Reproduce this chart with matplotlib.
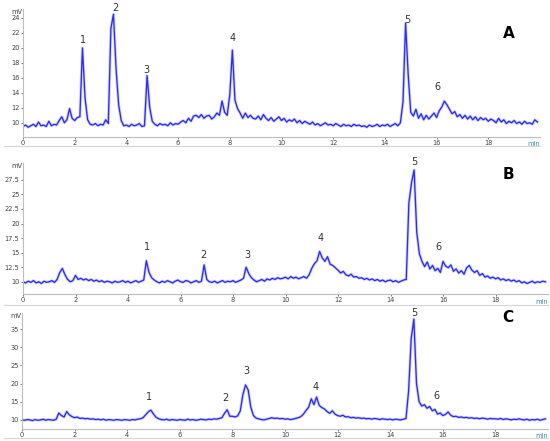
import numpy as np
import matplotlib
matplotlib.use("Agg")
import matplotlib.pyplot as plt
from matplotlib.lines import Line2D

# retention time grid (min)
time_min = [round(0.1 * i, 1) for i in range(200)]

signal_A = [
    9.5, 9.7, 9.4, 9.6, 9.8, 9.5, 10.1, 9.6, 9.7, 9.5,
    10.2, 9.6, 9.8, 9.7, 10.3, 10.8, 10.0, 10.4, 11.9, 10.6,
    10.3, 10.7, 10.8, 20.0, 13.3, 10.4, 9.8, 9.7, 9.9, 9.6,
    9.8, 9.7, 10.4, 9.9, 22.6, 24.5, 17.2, 12.4, 10.3, 9.6,
    9.7, 9.5, 9.8, 9.6, 9.7, 9.9, 9.5, 9.6, 16.3, 12.1,
    10.2, 9.8, 9.6, 9.9, 9.7, 9.8, 9.6, 10.0, 9.7, 9.9,
    9.8, 10.1, 10.3, 10.0, 10.6, 10.2, 10.9, 11.0, 10.7, 11.1,
    10.6, 10.9, 11.0, 10.5, 10.8, 11.3, 11.0, 12.9, 11.4, 11.0,
    13.8, 19.7, 13.0, 11.9, 11.3, 10.6, 11.3, 10.7, 11.0, 10.6,
    10.5, 10.9, 10.4, 11.1, 10.6, 10.3, 10.7, 10.2, 10.5, 10.8,
    10.3, 10.6, 10.1, 10.4, 10.2, 10.5, 10.0, 10.3, 9.9, 10.2,
    10.0, 9.8, 10.1, 9.7, 9.9, 9.6, 9.8, 10.0, 9.7, 9.8,
    9.6, 9.9, 9.7, 9.5, 9.8, 9.6, 9.7, 9.5, 9.8, 9.6,
    9.7, 9.5, 9.6, 9.4, 9.7, 9.5, 9.6, 9.8, 9.5, 9.7,
    9.6, 9.8, 9.5, 9.7, 9.9, 9.6, 10.0, 12.8, 23.3, 16.5,
    11.4, 10.9, 11.8, 10.6, 11.2, 10.4, 11.0, 10.5, 10.9, 11.3,
    10.7, 11.6, 12.1, 12.9, 12.4, 11.8, 11.2, 11.5, 10.8, 11.1,
    10.6, 11.0, 10.5, 10.9, 10.4, 10.8, 10.3, 10.7, 10.4, 10.6,
    10.2, 10.5, 10.3, 10.0, 10.6, 10.1, 10.4, 9.9, 10.2, 10.0,
    10.3, 9.9, 10.1, 9.8, 10.2, 9.9, 10.0, 9.8, 10.4, 10.1,
]

signal_B = [
    10.0, 9.8, 10.1, 9.9, 10.2, 9.8, 10.0, 9.7, 10.1, 9.9,
    10.0, 10.2, 9.9, 10.4, 11.6, 12.3, 11.2, 10.4, 10.0, 10.2,
    11.1, 10.4, 10.6, 10.3, 10.5, 10.2, 10.4, 10.1, 10.3, 10.0,
    10.2, 9.9, 10.1, 10.0, 9.8, 10.1, 9.9, 10.0, 10.2, 9.9,
    10.1, 9.8, 10.0, 10.2, 9.9, 10.1, 10.3, 13.6, 11.6, 10.7,
    10.3, 10.0, 9.8, 10.1, 9.9, 10.2, 10.0, 9.8, 10.1, 10.3,
    10.0, 9.9, 10.2, 10.1, 9.8, 10.0, 10.2, 9.9, 10.1, 12.9,
    10.4, 10.0, 9.9, 10.1, 9.8, 10.0, 10.2, 9.9, 10.1, 10.0,
    10.2, 9.9, 10.1, 10.3, 10.6, 12.5, 11.4, 10.7, 10.3, 10.0,
    10.2, 10.4, 10.1, 10.5, 10.3, 10.6, 10.4, 10.7, 10.5, 10.6,
    10.8, 10.5, 10.9, 10.6, 10.8, 10.5, 10.7, 10.9, 10.6, 11.2,
    12.3, 13.1, 13.6, 15.2, 14.1, 13.5, 14.3, 13.0, 12.8, 12.4,
    12.0, 11.5, 11.8, 11.2, 11.0, 11.3, 10.8, 10.9, 10.6, 10.7,
    10.4, 10.6, 10.3, 10.5, 10.2, 10.4, 10.1, 10.3, 10.0, 10.2,
    10.3, 10.0, 10.2, 9.9, 10.1, 10.3, 10.4, 23.5, 27.0, 29.2,
    18.5, 14.8, 13.5, 12.6, 13.4, 12.2, 12.8, 11.9, 12.3, 11.6,
    13.5, 12.7, 12.4, 12.9, 11.8, 12.2, 11.5, 11.9, 11.3, 12.4,
    12.8, 12.0, 11.6, 11.9, 11.1, 11.4, 10.8, 11.0, 10.6, 10.8,
    10.5, 10.7, 10.3, 10.5, 10.2, 10.4, 10.1, 10.3, 10.0, 10.2,
    9.8, 10.0, 9.7, 9.9, 10.1, 9.8, 10.0, 9.9, 10.1, 10.0,
]

signal_C = [
    10.0, 9.9, 10.1, 10.0, 9.8, 10.1, 9.9, 10.0, 10.2, 9.9,
    10.1, 10.0, 9.9, 10.2, 11.9, 11.2, 10.8, 12.3, 11.4, 10.9,
    10.6, 10.8, 10.4, 10.5, 10.3, 10.4, 10.2, 10.3, 10.1, 10.2,
    10.0, 10.2, 9.9, 10.1, 10.0, 9.9, 10.1, 10.0, 9.9, 10.1,
    10.0, 9.9, 10.1, 10.0, 10.2, 10.3, 10.6, 11.4, 12.2, 12.7,
    11.6, 10.7, 10.3, 10.1, 10.0, 10.2, 9.9, 10.1, 10.0, 9.9,
    10.1, 10.0, 9.9, 10.2, 10.0, 10.1, 9.9, 10.0, 10.2, 10.1,
    10.0, 10.2, 10.1, 10.3, 10.2, 10.4, 10.6, 11.8, 12.8, 11.0,
    11.0, 10.8, 11.1, 12.5, 17.0, 19.6, 18.2, 13.5, 11.2, 10.5,
    10.3, 10.1, 10.0, 10.2, 10.4, 10.6, 10.4, 10.5, 10.3, 10.4,
    10.2, 10.3, 10.1, 10.2, 10.4, 10.6, 10.9, 11.6, 12.6, 13.5,
    15.8, 14.2, 16.3, 14.0, 13.4, 13.0, 12.3, 11.8, 12.5, 11.6,
    11.2, 11.0, 11.3, 10.8, 10.9, 10.6, 10.7, 10.5, 10.6, 10.4,
    10.5, 10.3, 10.4, 10.2, 10.4, 10.3, 10.1, 10.3, 10.2, 10.1,
    10.2, 10.0, 10.2, 10.1, 10.0, 10.2, 10.4, 18.0, 32.5, 37.7,
    20.0, 15.0, 13.8, 14.2, 13.2, 13.7, 12.5, 12.9, 11.6, 11.9,
    11.2, 11.5, 12.2, 11.3, 10.9, 11.0, 10.7, 10.8, 10.6, 10.7,
    10.5, 10.6, 10.4, 10.5, 10.3, 10.5, 10.4, 10.2, 10.4, 10.3,
    10.3, 10.2, 10.4, 10.1, 10.3, 10.2, 10.0, 10.2, 10.1, 10.3,
    10.1, 10.0, 10.2, 9.9, 10.1, 10.0, 10.2, 9.9, 10.1, 10.3,
]

peak_labels = ["1", "2", "3", "4", "5", "6"]
label_pos_A = [(2.32, 21.1), (3.56, 25.3), (4.76, 17.1), (8.12, 21.3), (14.85, 23.7), (16.05, 14.8)]
label_pos_B = [(4.72, 16.0), (6.86, 14.6), (8.53, 14.6), (11.35, 17.5), (14.9, 30.6), (15.81, 16.0)]
label_pos_C = [(4.83, 16.3), (7.72, 16.0), (8.52, 23.5), (11.18, 19.0), (14.9, 39.4), (15.74, 16.6)]

yticks_A = [10, 12, 14, 16, 18, 20, 22, 24]
yticks_B = [10, 12.5, 15, 17.5, 20, 22.5, 25, 27.5]
yticks_C = [10, 15, 20, 25, 30, 35]
ytick_labels_B = ["10", "12.5", "15", "17.5", "20", "22.5", "25", "27.5"]
xticks = [0, 2, 4, 6, 8, 10, 12, 14, 16, 18]
panel_names = ["A", "B", "C"]

W, H = 550, 441
fig = plt.figure(figsize=(5.5, 4.41), dpi=100)
fig.patch.set_facecolor("white")

def fx(px):
    return px / W

def fy(py):
    return 1 - py / H

panels = [
    # left px, right px, top px, bottom px, frame bottom px, ylim
    (23, 540, 9, 137, 146, (8.1, 25.2), signal_A, yticks_A, [str(v) for v in yticks_A], label_pos_A),
    (23, 548, 163, 294, 305, (7.9, 30.4), signal_B, yticks_B, ytick_labels_B, label_pos_B),
    (22, 548, 313, 429, 438, (7.5, 39.4), signal_C, yticks_C, [str(v) for v in yticks_C], label_pos_C),
]

line_color = "#2b2bf2"
for (l, r, t, b, fb, ylim, sig, yt, ytl, lpos) in panels:
    ax = fig.add_axes([fx(l), fy(b), fx(r) - fx(l), fy(t) - fy(b)])
    ax.plot(time_min, sig, color="#8080ff", lw=2.2, alpha=0.35)
    ax.plot(time_min, sig, color=line_color, lw=0.95)
    ax.set_xlim(0, 20)
    ax.set_ylim(*ylim)
    ax.set_yticks(yt)
    ax.set_yticklabels(ytl)
    ax.set_xticks(xticks)
    ax.set_xticklabels([str(v) for v in xticks])
    ax.tick_params(axis="both", labelsize=4.8, colors="#444444", length=1.5, width=0.5, pad=1)
    for s in ["top", "right"]:
        ax.spines[s].set_visible(False)
    for s in ["left", "bottom"]:
        ax.spines[s].set_color("#bdbdbd")
        ax.spines[s].set_linewidth(0.8)
    ax.text(-0.002, 1.0, "mV", transform=ax.transAxes, ha="right", va="top",
            fontsize=4.8, color="#444444")
    ax.text(1.0, -0.035, "min", transform=ax.transAxes, ha="right", va="top",
            fontsize=4.8, color="#3a8fb0")
    for lab, (xx, yy) in zip(peak_labels, lpos):
        ax.text(xx, yy, lab, ha="center", va="center", fontsize=7, color="#333333", clip_on=False)
    # light frame line under the tick labels
    fig.add_artist(Line2D([fx(4), fx(r)], [fy(fb), fy(fb)], color="#d6d6d6", lw=0.8))

for name, (px, py) in zip(panel_names, [(509, 33), (508, 175), (508, 318)]):
    fig.text(fx(px), fy(py), name, ha="center", va="center", fontsize=11,
             fontweight="bold", color="black")

fig.savefig("out.png", dpi=100, facecolor="white")
